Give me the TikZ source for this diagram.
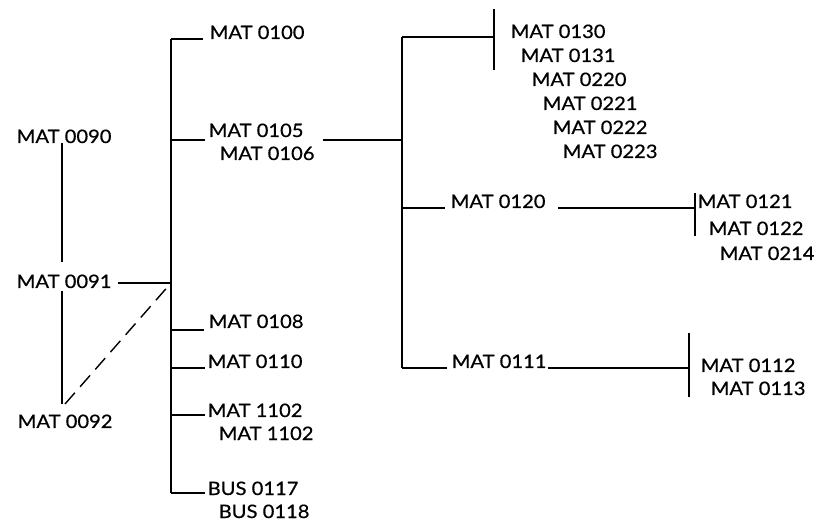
\documentclass[tikz,border=0pt]{standalone}
\usepackage{fontspec}
\setmainfont{Lato}[FakeStretch=1.09,FakeBold=0.6]
\begin{document}
\begin{tikzpicture}[x=1pt,y=-1pt,line width=1.4pt,
  lbl/.style={anchor=base west,inner sep=0pt,font=\fontsize{18.5}{18.5}\selectfont},
  dashline/.style={dash pattern=on 15pt off 8pt}]
\useasboundingbox (0,0) rectangle (817,521);
% left column
\node[lbl] (m0090) at (16,143) {MAT 0090};
\node[lbl] (m0091) at (16,288) {MAT 0091};
\node[lbl] (m0092) at (17,428) {MAT 0092};
% first level
\node[lbl] (m0100) at (209,39) {MAT 0100};
\node[lbl] (m0105) at (208,137) {MAT 0105};
\node[lbl] (m0106) at (219,160) {MAT 0106};
\node[lbl] (m0108) at (208,328) {MAT 0108};
\node[lbl] (m0110) at (207,368) {MAT 0110};
\node[lbl] (m1102a) at (207,417) {MAT 1102};
\node[lbl] (m1102b) at (218,440) {MAT 1102};
\node[lbl] (b0117) at (207,495) {BUS 0117};
\node[lbl] (b0118) at (218,518) {BUS 0118};
% second level
\node[lbl] (m0130) at (510,38) {MAT 0130};
\node[lbl] (m0131) at (520,62) {MAT 0131};
\node[lbl] (m0220) at (531,86) {MAT 0220};
\node[lbl] (m0221) at (542,110) {MAT 0221};
\node[lbl] (m0222) at (552,134) {MAT 0222};
\node[lbl] (m0223) at (562,158) {MAT 0223};
\node[lbl] (m0120) at (450,208) {MAT 0120};
\node[lbl] (m0121) at (697,208) {MAT 0121};
\node[lbl] (m0122) at (708,235) {MAT 0122};
\node[lbl] (m0214) at (719,260) {MAT 0214};
\node[lbl] (m0111) at (451,368) {MAT 0111};
\node[lbl] (m0112) at (700,372) {MAT 0112};
\node[lbl] (m0113) at (710,395) {MAT 0113};
% coordinates
\coordinate (c90b) at (62,143);
\coordinate (c91t) at (62,262);
\coordinate (c91b) at (62,291);
\coordinate (c92t) at (62,404);
\coordinate (c92d) at (65,404);
\coordinate (c91e) at (118,283);
\coordinate (J) at (171,283);
\coordinate (T1) at (171,39);
\coordinate (T2) at (171,140);
\coordinate (T3) at (171,330);
\coordinate (T4) at (171,368);
\coordinate (T5) at (171,415);
\coordinate (T6) at (171,493);
\coordinate (S0) at (402,140);
\coordinate (S1) at (402,37);
\coordinate (S2) at (402,208);
\coordinate (S3) at (402,368);
\coordinate (K1) at (494,37);
\coordinate (K1t) at (494,9);
\coordinate (K1b) at (494,70);
\coordinate (K2) at (695,208);
\coordinate (K2t) at (695,193);
\coordinate (K2b) at (695,236);
\coordinate (K3) at (689,368);
\coordinate (K3t) at (689,333);
\coordinate (K3b) at (689,397);
% left lines
\draw (c90b) -- (c91t);
\draw (c91b) -- (c92t);
\draw[dashline] (c92d) -- (J);
\draw (c91e) -- (J);
% trunk
\draw (T1) -- (T6);
\draw (T1) -- (T1 -| {203,0});
\draw (T2) -- (T2 -| {205,0});
\draw (T3) -- (T3 -| {204,0});
\draw (T4) -- (T4 -| {205,0});
\draw (T5) -- (T5 -| {205,0});
\draw (T6) -- (T6 -| {205,0});
% second level
\draw (S0 -| {323,0}) -- (S0);
\draw (S1) -- (S3);
\draw (S1) -- (K1);
\draw (K1t) -- (K1b);
\draw (S2) -- (S2 -| {445,0});
\draw (S2 -| {558,0}) -- (K2);
\draw (K2t) -- (K2b);
\draw (S3) -- (S3 -| {447,0});
\draw (S3 -| {548,0}) -- (K3);
\draw (K3t) -- (K3b);
\end{tikzpicture}
\end{document}
